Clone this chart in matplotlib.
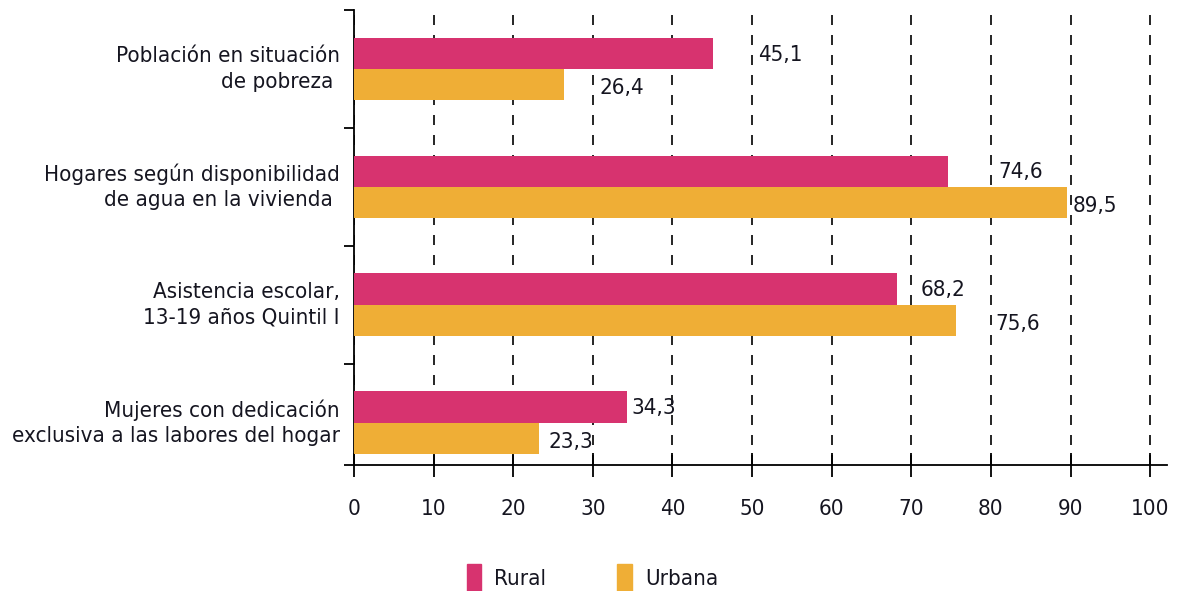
"""Rural vs urban indicators, horizontal grouped bars."""

import matplotlib

matplotlib.use("Agg")
import matplotlib.pyplot as plt
import numpy as np
from matplotlib.patches import Patch

CATEGORIES = [
    "Población en situación\nde pobreza ",
    "Hogares según disponibilidad\nde agua en la vivienda ",
    "Asistencia escolar,\n13-19 años Quintil I",
    "Mujeres con dedicación\nexclusiva a las labores del hogar",
]
RURAL = [45.1, 74.6, 68.2, 34.3]
URBANA = [26.4, 89.5, 75.6, 23.3]
SERIES_NAMES = ["Rural", "Urbana"]
X_TICKS = [0, 10, 20, 30, 40, 50, 60, 70, 80, 90, 100]

# where each value label starts, measured from its bar end (data units)
RURAL_LABEL_GAP = [5.7, 6.4, 3.0, 0.5]
URBANA_LABEL_GAP = [4.5, 0.8, 4.9, 1.1]

RURAL_COLOR = "#D7336F"
URBANA_COLOR = "#EFAE36"
TEXT_COLOR = "#151520"

plt.rcParams["font.family"] = ["DejaVu Sans"]
plt.rcParams["font.stretch"] = "condensed"
plt.rcParams["font.size"] = 16

fig = plt.figure(figsize=(11.85, 5.91), dpi=100)
ax = fig.add_axes([0.2987, 0.2132, 0.686, 0.7698])

y = np.arange(len(CATEGORIES))
h = 0.265
ax.barh(y - h / 2, RURAL, height=h, color=RURAL_COLOR, zorder=3)
ax.barh(y + h / 2, URBANA, height=h, color=URBANA_COLOR, zorder=3)

for i in range(len(CATEGORIES)):
    ax.text(RURAL[i] + RURAL_LABEL_GAP[i], y[i] - h / 2 + 0.01, f"{RURAL[i]:.1f}".replace(".", ","),
            va="center", ha="left", color=TEXT_COLOR, zorder=4)
    ax.text(URBANA[i] + URBANA_LABEL_GAP[i], y[i] + h / 2 + 0.03, f"{URBANA[i]:.1f}".replace(".", ","),
            va="center", ha="left", color=TEXT_COLOR, zorder=4)

ax.set_xlim(0, 102.1)
ax.set_ylim(3.36, -0.5)
ax.set_xticks(X_TICKS)
ax.set_xticklabels([str(t) for t in X_TICKS], color=TEXT_COLOR)
ax.xaxis.grid(True, color="black", linestyle=(0, (6, 6)), linewidth=1.2, zorder=1)

ax.set_yticks([-0.5, 0.5, 1.5, 2.5, 3.36])
ax.set_yticklabels([])
for yi, cat in zip(y, CATEGORIES):
    ax.text(-1.8, yi, cat, ha="right", va="center", multialignment="right",
            color=TEXT_COLOR, linespacing=1.35)

for side in ("top", "right"):
    ax.spines[side].set_visible(False)
for side in ("left", "bottom"):
    ax.spines[side].set_linewidth(1.3)
ax.tick_params(axis="x", direction="inout", length=17, width=1.3, pad=16)
ax.tick_params(axis="y", direction="out", length=7.5, width=1.3)

handles = [Patch(color=RURAL_COLOR), Patch(color=URBANA_COLOR)]
fig.legend(handles, SERIES_NAMES, loc="center", bbox_to_anchor=(0.5, 0.022), ncol=2,
           frameon=False, handlelength=0.65, handleheight=1.5, handletextpad=0.6,
           columnspacing=3.2, labelcolor=TEXT_COLOR)

fig.savefig("out.png", dpi=100)
